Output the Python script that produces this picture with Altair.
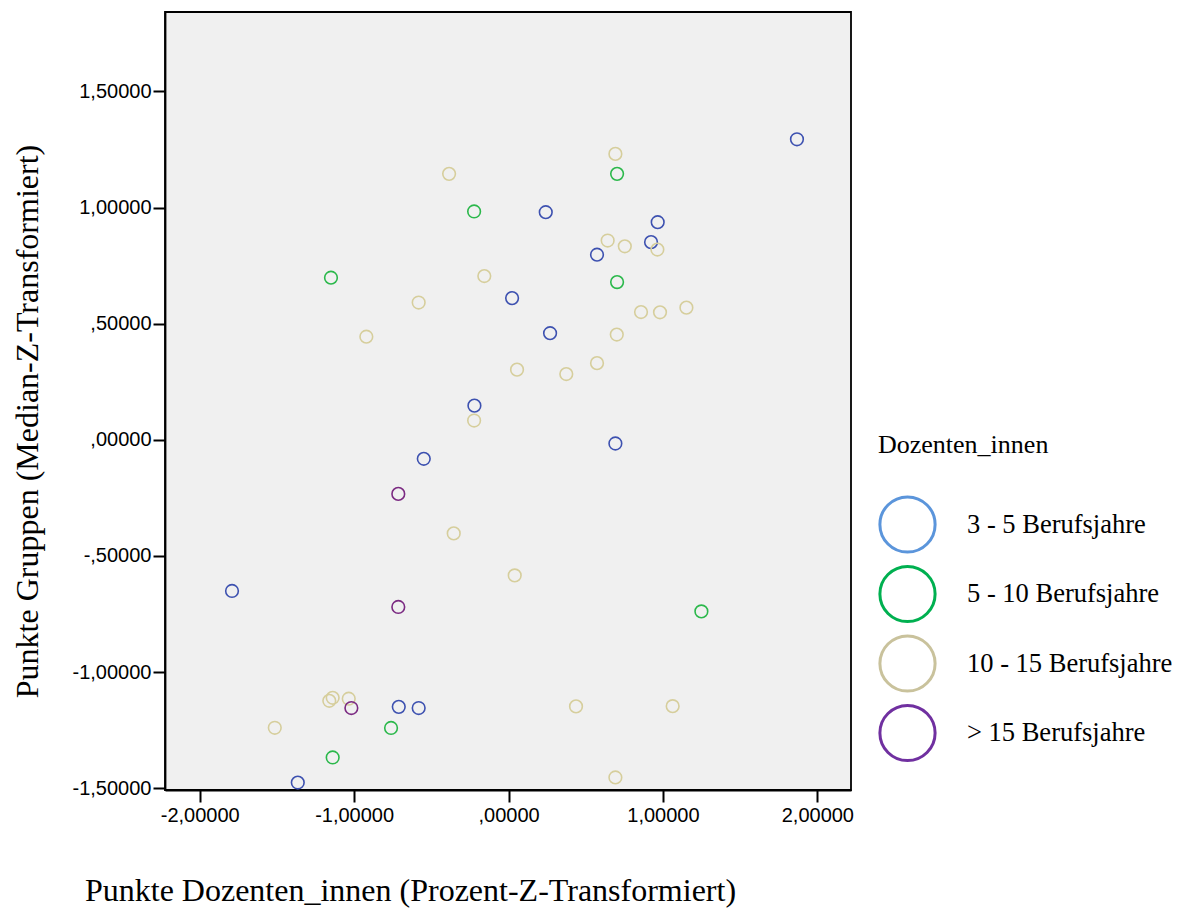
import altair as alt
import pandas as pd

groups = ["3 - 5 Berufsjahre", "5 - 10 Berufsjahre", "10 - 15 Berufsjahre", "> 15 Berufsjahre"]
marker_colors = ["#3D51B0", "#2BB84B", "#D6CE9C", "#7B2A82"]
legend_colors = ["#5B95DB", "#00B050", "#C9C29C", "#7030A0"]

blue_x = [1.868, 0.241, 0.966, 0.923, 0.573, 0.023, 0.269, -0.221, 0.692, -0.549, -1.791, -0.711, -0.582, -1.365]
blue_y = [1.294, 0.980, 0.937, 0.851, 0.797, 0.610, 0.459, 0.147, -0.016, -0.082, -0.651, -1.150, -1.155, -1.476]

green_x = [-0.223, -1.150, 0.703, 0.703, 1.249, -0.761, -1.139]
green_y = [0.983, 0.698, 1.145, 0.679, -0.739, -1.241, -1.368]

tan_x = [-0.385, -0.157, -0.582, -0.921, -0.223, 0.692, 0.642, 0.753, 0.964, 0.858, 0.981, 1.152, 0.701,
         0.055, 0.374, 0.573, -0.355, 0.040, -1.139, -1.161, -1.035, -1.514, 0.437, 1.063, 0.692]
tan_y = [1.145, 0.705, 0.591, 0.444, 0.083, 1.231, 0.858, 0.833, 0.819, 0.550, 0.549, 0.569, 0.453,
         0.302, 0.283, 0.330, -0.403, -0.584, -1.111, -1.124, -1.115, -1.240, -1.148, -1.147, -1.454]

purple_x = [-0.714, -0.714, -1.018]
purple_y = [-0.233, -0.720, -1.155]

rows = []
for g, xs, ys in zip(groups, [blue_x, green_x, tan_x, purple_x], [blue_y, green_y, tan_y, purple_y]):
    for a, b in zip(xs, ys):
        rows.append({"x": a, "y": b, "Gruppe": g})
df = pd.DataFrame(rows)

label_expr = ("(datum.value < 0 ? '-' : '') + replace(abs(datum.value) < 1 ? "
              "slice(format(abs(datum.value), '.5f'), 1) : format(abs(datum.value), '.5f'), '.', ',')")

x_enc = alt.X("x:Q",
              scale=alt.Scale(domain=[-2.225, 2.218], nice=False, zero=False),
              axis=alt.Axis(title="Punkte Dozenten_innen (Prozent-Z-Transformiert)",
                            values=[-2, -1, 0, 1, 2], labelExpr=label_expr, grid=False,
                            titleX=245, titleY=110, titleBaseline="alphabetic", titleAlign="center",
                            labelPadding=3))
y_enc = alt.Y("y:Q",
              scale=alt.Scale(domain=[-1.508, 1.842], nice=False, zero=False),
              axis=alt.Axis(title="Punkte Gruppen (Median-Z-Transformiert)",
                            values=[-1.5, -1.0, -0.5, 0, 0.5, 1.0, 1.5], labelExpr=label_expr, grid=False,
                            titleX=-138, titleY=409, titleBaseline="middle", titleAlign="center",
                            titleAngle=-90, labelPadding=2))

points = alt.Chart(df).mark_point(shape="circle", filled=False, size=160, strokeWidth=1.6, opacity=1).encode(
    x=x_enc, y=y_enc,
    stroke=alt.Stroke("Gruppe:N", scale=alt.Scale(domain=groups, range=marker_colors), legend=None),
)

legend_layer = alt.Chart(df).mark_point(shape="circle", filled=False, size=0, strokeWidth=0).encode(
    x="x:Q", y="y:Q",
    color=alt.Color("Gruppe:N", scale=alt.Scale(domain=groups, range=legend_colors),
                    legend=alt.Legend(title="Dozenten_innen", orient="none", legendX=713, legendY=420,
                                      symbolSize=3050, symbolStrokeWidth=3, symbolType="circle",
                                      symbolFillColor="transparent", symbolOpacity=1,
                                      rowPadding=0.5, labelOffset=30, titlePadding=37,
                                      titleFont="Liberation Serif", titleFontSize=26,
                                      titleFontWeight="normal", titleColor="black",
                                      labelFont="Liberation Serif", labelFontSize=26.5,
                                      labelColor="black", labelLimit=400)),
)

chart = alt.layer(legend_layer, points).properties(
    width=686, height=778,
    autosize=alt.AutoSizeParams(type="none"),
    padding={"left": 157, "top": 4, "right": 333, "bottom": 118},
    background="white",
).configure_view(
    fill="#F0F0F0", stroke="black", strokeWidth=1.8,
).configure_axis(
    labelFont="Liberation Sans", labelFontSize=20, labelColor="black",
    tickColor="black", tickSize=12, tickWidth=2,
    domainColor="black", domainWidth=1.8,
    titleFont="Liberation Serif", titleFontSize=32, titleFontWeight="normal", titleColor="black",
)

chart.save("out.html", embed_options={"renderer": "svg", "actions": False})
